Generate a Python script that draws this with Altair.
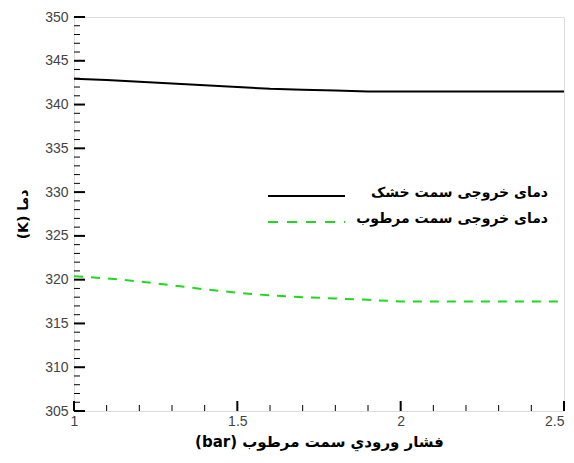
import altair as alt
import pandas as pd

# data
pressure = [1.0, 1.1, 1.2, 1.3, 1.4, 1.5, 1.6, 1.7, 1.8, 1.9, 2.0, 2.1, 2.2, 2.3, 2.4, 2.5]
temp_dry = [342.95, 342.8, 342.6, 342.4, 342.2, 342.0, 341.8, 341.7, 341.6, 341.5, 341.5, 341.5, 341.5, 341.5, 341.5, 341.5]
temp_wet = [320.4, 320.15, 319.8, 319.35, 318.9, 318.5, 318.2, 318.0, 317.85, 317.7, 317.5, 317.5, 317.5, 317.5, 317.5, 317.5]

label_dry = "دمای خروجی سمت خشک"
label_wet = "دمای خروجی سمت مرطوب"
x_title = "(bar) فشار ورودي سمت مرطوب"
y_title = "(K) دما"

y_major = [305, 310, 315, 320, 325, 330, 335, 340, 345, 350]
y_minor = [v for v in range(305, 351) if v % 5 != 0]
x_major = [1.0, 1.5, 2.0, 2.5]
x_minor = [1.1, 1.2, 1.3, 1.4, 1.6, 1.7, 1.8, 1.9, 2.1, 2.2, 2.3, 2.4]

W, H = 490, 394
FONT = "Liberation Sans, Arial, DejaVu Sans"
AFONT = "DejaVu Sans"

xscale = alt.Scale(domain=[1, 2.5], nice=False, zero=False)
yscale = alt.Scale(domain=[305, 350], nice=False, zero=False)

df = pd.DataFrame({"p": pressure, "dry": temp_dry, "wet": temp_wet})

xaxis = alt.Axis(values=x_major, format="~g", ticks=False, domain=False, grid=False,
                 labelFont=FONT, labelFontSize=14, labelColor="#444", labelPadding=3,
                 labelFlush=False, labelOverlap=False,
                 labelAlign=alt.ExprRef(expr="datum.value >= 2.5 ? 'right' : 'center'"),
                 title=x_title, titleFont=AFONT, titleFontSize=15, titleFontWeight="bold",
                 titleColor="#000", titlePadding=6)
yaxis = alt.Axis(values=y_major, ticks=False, domain=False, grid=False,
                 labelFont=FONT, labelFontSize=14, labelColor="#444", labelPadding=6,
                 labelFlush=False, labelOverlap=False,
                 title=y_title, titleFont=AFONT, titleFontSize=14, titleFontWeight="bold",
                 titleColor="#000", titlePadding=14)


def X(field):
    return alt.X(field, scale=xscale, axis=xaxis, title=x_title)


def Y(field):
    return alt.Y(field, scale=yscale, axis=yaxis, title=y_title)


base = alt.Chart(df)
dry_line = base.mark_line(color="black", strokeWidth=2).encode(x=X("p:Q"), y=Y("dry:Q"))
wet_line = base.mark_line(color="#1ed91e", strokeWidth=2, strokeDash=[9, 8]).encode(x=X("p:Q"), y=Y("wet:Q"))

ymaj = alt.Chart(pd.DataFrame({"v": y_major})).mark_rule(color="black", strokeWidth=2).encode(
    y=Y("v:Q"), x=alt.value(0), x2=alt.value(11))
ymin = alt.Chart(pd.DataFrame({"v": y_minor})).mark_rule(color="black", strokeWidth=1).encode(
    y=Y("v:Q"), x=alt.value(0), x2=alt.value(6))
xmaj = alt.Chart(pd.DataFrame({"v": x_major})).mark_rule(color="black", strokeWidth=2).encode(
    x=X("v:Q"), y=alt.value(H), y2=alt.value(H - 10))
xmin = alt.Chart(pd.DataFrame({"v": x_minor})).mark_rule(color="black", strokeWidth=1).encode(
    x=X("v:Q"), y=alt.value(H), y2=alt.value(H - 6))

# legend
leg_dry_line = alt.Chart(pd.DataFrame({"k": [0]})).mark_rule(color="black", strokeWidth=2).encode(
    x=alt.value(194), x2=alt.value(271), y=alt.value(179))
leg_wet_line = alt.Chart(pd.DataFrame({"k": [0]})).mark_rule(color="#1ed91e", strokeWidth=2, strokeDash=[10, 9]).encode(
    x=alt.value(194), x2=alt.value(271), y=alt.value(205))
leg_text = alt.Chart(pd.DataFrame({"t": [label_dry, label_wet], "yy": [176, 202]})).mark_text(
    align="right", baseline="middle", font=AFONT, fontSize=14, fontWeight="bold", color="black").encode(
    text="t:N", x=alt.value(474), y=alt.Y("yy:Q", scale=None))

chart = alt.layer(dry_line, wet_line, ymaj, ymin, xmaj, xmin, leg_dry_line, leg_wet_line, leg_text).properties(
    width=W, height=H, autosize="none",
    padding={"left": 66, "top": 9, "right": 2, "bottom": 44},
).configure_view(stroke="black", strokeWidth=2).configure(background="white")

chart.save("out.html", embed_options={"renderer": "svg", "actions": False})
